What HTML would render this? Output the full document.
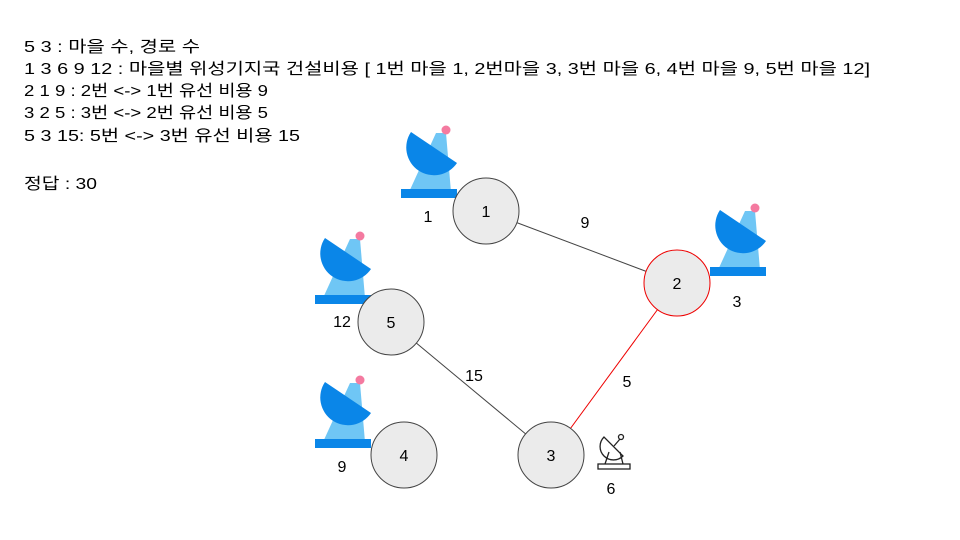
<!DOCTYPE html>
<html><head><meta charset="utf-8"><style>
html,body{margin:0;padding:0;background:#fff;width:960px;height:540px;overflow:hidden}
svg text{font-family:"Liberation Sans","Noto Sans CJK KR",sans-serif;font-size:16px;fill:#000}
</style></head><body>
<svg width="960" height="540" xmlns="http://www.w3.org/2000/svg">
<defs>
<g id="sat">
<polygon points="409,192 451,192 446,133 436,133" fill="#6fc6f5"/>
<path d="M411,132 A27,27 0 0 0 457,163 Z" fill="#0a86e8"/>
<circle cx="446" cy="130" r="4.5" fill="#f47aa0"/>
<rect x="401" y="189" width="56" height="9" fill="#0a86e8"/>
</g>
</defs>
<text x="24" y="52" textLength="176" lengthAdjust="spacingAndGlyphs">5 3 : 마을 수, 경로 수</text>
<text x="24" y="74" textLength="846" lengthAdjust="spacingAndGlyphs">1 3 6 9 12 : 마을별 위성기지국 건설비용 [ 1번 마을 1, 2번마을 3, 3번 마을 6, 4번 마을 9, 5번 마을 12]</text>
<text x="24" y="96" textLength="244" lengthAdjust="spacingAndGlyphs">2 1 9 : 2번 &lt;-&gt; 1번 유선 비용 9</text>
<text x="24" y="118" textLength="244" lengthAdjust="spacingAndGlyphs">3 2 5 : 3번 &lt;-&gt; 2번 유선 비용 5</text>
<text x="24" y="141" textLength="276" lengthAdjust="spacingAndGlyphs">5 3 15: 5번  &lt;-&gt; 3번 유선 비용 15</text>
<text x="24" y="189" textLength="73" lengthAdjust="spacingAndGlyphs">정답 : 30</text>

<line x1="486" y1="211" x2="677" y2="283" stroke="#444" stroke-width="1"/>
<line x1="391" y1="322" x2="551" y2="455" stroke="#444" stroke-width="1"/>
<line x1="677" y1="283" x2="551" y2="455" stroke="#e00" stroke-width="1"/>

<use href="#sat"/>
<use href="#sat" transform="translate(309,78)"/>
<use href="#sat" transform="translate(-86,106)"/>
<use href="#sat" transform="translate(-86,250)"/>

<g fill="#ebebeb" stroke="#444" stroke-width="1">
<circle cx="486" cy="211" r="33"/>
<circle cx="391" cy="322" r="33"/>
<circle cx="551" cy="455" r="33"/>
<circle cx="404" cy="455" r="33"/>
</g>
<circle cx="677" cy="283" r="33" fill="#ebebeb" stroke="#e00" stroke-width="1"/>

<g text-anchor="middle">
<text x="486" y="217">1</text>
<text x="677" y="289">2</text>
<text x="391" y="328">5</text>
<text x="551" y="461">3</text>
<text x="404" y="461">4</text>
<text x="585" y="228">9</text>
<text x="474" y="381">15</text>
<text x="627" y="387">5</text>
<text x="428" y="222">1</text>
<text x="737" y="307">3</text>
<text x="342" y="327">12</text>
<text x="342" y="472">9</text>
<text x="611" y="494">6</text>
</g>

<g fill="none" stroke="#222" stroke-width="1.3">
<rect x="598" y="464" width="32" height="5"/>
<path d="M605,464 L609,452 M623,464 L620,452"/>
<path d="M604,437 A11,11 0 0 0 623,456 Z"/>
<line x1="614" y1="446" x2="620" y2="439"/>
<circle cx="621" cy="437" r="2.5"/>
</g>
</svg>
</body></html>
